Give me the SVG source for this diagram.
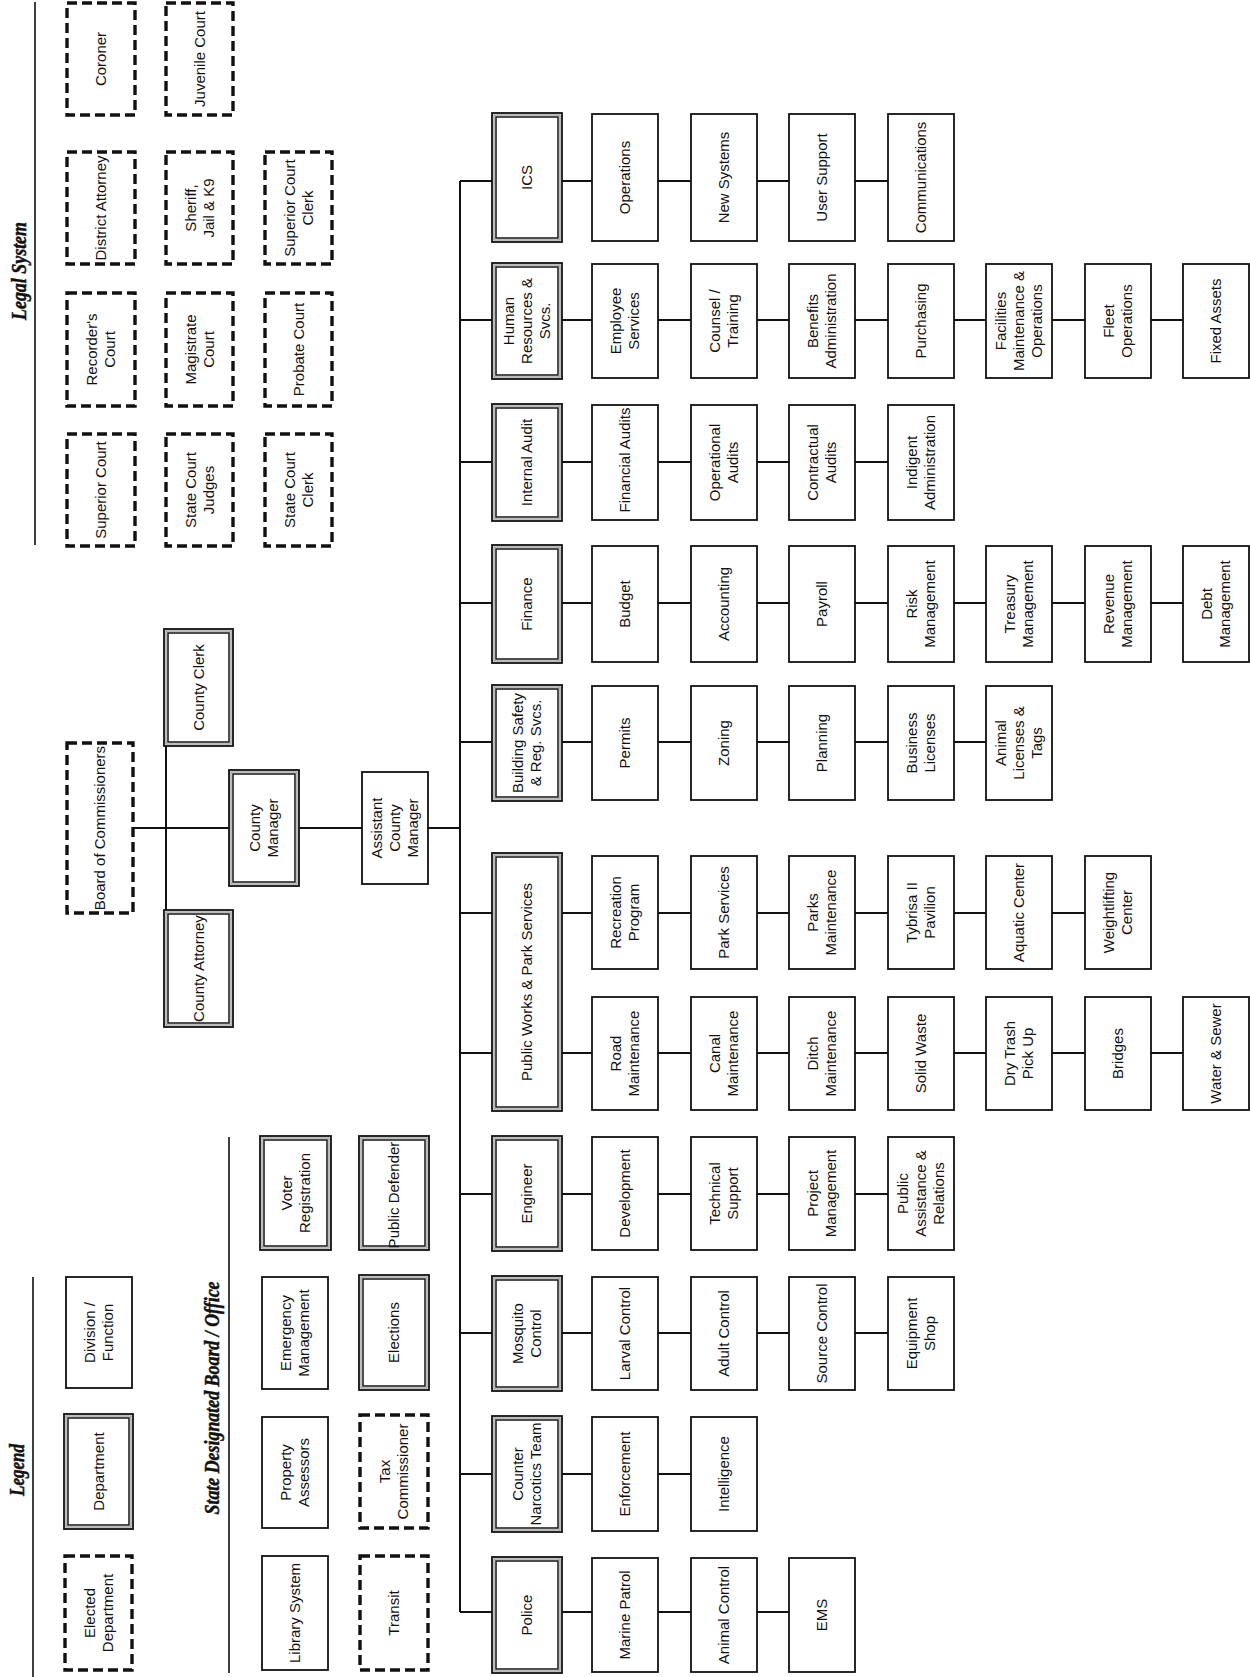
<svg xmlns="http://www.w3.org/2000/svg" width="1250" height="1677" viewBox="0 0 1250 1677">
<style>
.bg{fill:#fff}
.b{fill:#fff;stroke:#111;stroke-width:1.8}
.e{fill:#fff;stroke:#111;stroke-width:3.4;stroke-dasharray:10 5}
.o{fill:#fff;stroke:#111;stroke-width:1.8}
.m{fill:none;stroke:#999;stroke-width:1.3}
.i{fill:none;stroke:#222;stroke-width:1.6}
.t{font-family:"Liberation Sans",Arial,sans-serif;font-size:15px;fill:#111;text-anchor:middle}
.h{font-family:"Liberation Serif","Times New Roman",serif;font-weight:bold;font-style:italic;font-size:21px;fill:#111;text-anchor:middle;stroke:#111;stroke-width:0.5}
.c{stroke:#111;stroke-width:2;fill:none}
.r{stroke:#111;stroke-width:1.6;fill:none}
</style>
<rect class="bg" x="0" y="0" width="1250" height="1677"/>

<g id="titles">
<text class="h" transform="rotate(-90 19 271)" x="19" y="271" dy="7" textLength="98" lengthAdjust="spacingAndGlyphs">Legal System</text>
<text class="h" transform="rotate(-90 17 1470)" x="17" y="1470" dy="7" textLength="52" lengthAdjust="spacingAndGlyphs">Legend</text>
<text class="h" transform="rotate(-90 212 1398)" x="212" y="1398" dy="7" textLength="233" lengthAdjust="spacingAndGlyphs">State Designated Board / Office</text>
<path class="r" d="M35 2V545M33 1277V1677M229 1137V1673"/>
</g>

<g id="connectors">
<path class="c" d="M133 828H460M166 746V910M460 181V1612"/>
<path class="c" d="M460 181H921M460 320H1216M460 462H921M460 603H1216M460 742H1019M460 913H1118M460 1053H1216M460 1194H921M460 1333H921M460 1474H724M460 1612H822"/>
</g>

<!-- Legal System -->
<g id="ls-coroner"><rect class="e" x="67" y="3" width="68" height="112"/><text class="t" transform="rotate(-90 101 59)" x="101" y="59" dy="5">Coroner</text></g>
<g id="ls-district-attorney"><rect class="e" x="67" y="152" width="68" height="112"/><text class="t" transform="rotate(-90 101 208)" x="101" y="208" dy="5">District Attorney</text></g>
<g id="ls-recorders-court"><rect class="e" x="67" y="293" width="68" height="113"/><text class="t" transform="rotate(-90 101 349.5)" x="101" y="349.5"><tspan x="101" dy="-4">Recorder's</tspan><tspan x="101" dy="18">Court</tspan></text></g>
<g id="ls-superior-court"><rect class="e" x="67" y="434" width="68" height="112"/><text class="t" transform="rotate(-90 101 490)" x="101" y="490" dy="5">Superior Court</text></g>
<g id="ls-juvenile-court"><rect class="e" x="166" y="3" width="67" height="112"/><text class="t" transform="rotate(-90 199.5 59)" x="199.5" y="59" dy="5">Juvenile Court</text></g>
<g id="ls-sheriff"><rect class="e" x="166" y="152" width="67" height="112"/><text class="t" transform="rotate(-90 199.5 208)" x="199.5" y="208"><tspan x="199.5" dy="-4">Sheriff,</tspan><tspan x="199.5" dy="18">Jail &amp; K9</tspan></text></g>
<g id="ls-magistrate-court"><rect class="e" x="166" y="293" width="67" height="113"/><text class="t" transform="rotate(-90 199.5 349.5)" x="199.5" y="349.5"><tspan x="199.5" dy="-4">Magistrate</tspan><tspan x="199.5" dy="18">Court</tspan></text></g>
<g id="ls-state-court-judges"><rect class="e" x="166" y="434" width="67" height="112"/><text class="t" transform="rotate(-90 199.5 490)" x="199.5" y="490"><tspan x="199.5" dy="-4">State Court</tspan><tspan x="199.5" dy="18">Judges</tspan></text></g>
<g id="ls-superior-court-clerk"><rect class="e" x="265" y="152" width="67" height="112"/><text class="t" transform="rotate(-90 298.5 208)" x="298.5" y="208"><tspan x="298.5" dy="-4">Superior Court</tspan><tspan x="298.5" dy="18">Clerk</tspan></text></g>
<g id="ls-probate-court"><rect class="e" x="265" y="293" width="67" height="113"/><text class="t" transform="rotate(-90 298.5 349.5)" x="298.5" y="349.5" dy="5">Probate Court</text></g>
<g id="ls-state-court-clerk"><rect class="e" x="265" y="434" width="67" height="112"/><text class="t" transform="rotate(-90 298.5 490)" x="298.5" y="490"><tspan x="298.5" dy="-4">State Court</tspan><tspan x="298.5" dy="18">Clerk</tspan></text></g>

<!-- Legend -->
<g id="lg-elected"><rect class="e" x="65" y="1556" width="67" height="114"/><text class="t" transform="rotate(-90 98.5 1613)" x="98.5" y="1613"><tspan x="98.5" dy="-4">Elected</tspan><tspan x="98.5" dy="18">Department</tspan></text></g>
<g id="lg-department"><rect class="o" x="64" y="1414" width="69" height="115"/><rect class="m" x="66" y="1416" width="65" height="111"/><rect class="i" x="68" y="1418" width="61" height="107"/><text class="t" transform="rotate(-90 98.5 1471.5)" x="98.5" y="1471.5" dy="5">Department</text></g>
<g id="lg-division"><rect class="b" x="66" y="1277" width="66" height="111"/><text class="t" transform="rotate(-90 99 1332.5)" x="99" y="1332.5"><tspan x="99" dy="-4">Division /</tspan><tspan x="99" dy="18">Function</tspan></text></g>

<!-- State designated -->
<g id="sd-library"><rect class="b" x="262" y="1556" width="66" height="114"/><text class="t" transform="rotate(-90 295 1613)" x="295" y="1613" dy="5">Library System</text></g>
<g id="sd-property"><rect class="b" x="262" y="1417" width="66" height="111"/><text class="t" transform="rotate(-90 295 1472.5)" x="295" y="1472.5"><tspan x="295" dy="-4">Property</tspan><tspan x="295" dy="18">Assessors</tspan></text></g>
<g id="sd-emergency"><rect class="b" x="262" y="1277" width="66" height="112"/><text class="t" transform="rotate(-90 295 1333)" x="295" y="1333"><tspan x="295" dy="-4">Emergency</tspan><tspan x="295" dy="18">Management</tspan></text></g>
<g id="sd-voter"><rect class="o" x="260" y="1136" width="71" height="114"/><rect class="m" x="262" y="1138" width="67" height="110"/><rect class="i" x="264" y="1140" width="63" height="106"/><text class="t" transform="rotate(-90 295.5 1193)" x="295.5" y="1193"><tspan x="295.5" dy="-4">Voter</tspan><tspan x="295.5" dy="18">Registration</tspan></text></g>
<g id="sd-transit"><rect class="e" x="360" y="1556" width="68" height="114"/><text class="t" transform="rotate(-90 394 1613)" x="394" y="1613" dy="5">Transit</text></g>
<g id="sd-tax"><rect class="e" x="360" y="1415" width="68" height="113"/><text class="t" transform="rotate(-90 394 1471.5)" x="394" y="1471.5"><tspan x="394" dy="-4">Tax</tspan><tspan x="394" dy="18">Commissioner</tspan></text></g>
<g id="sd-elections"><rect class="o" x="359" y="1275" width="70" height="115"/><rect class="m" x="361" y="1277" width="66" height="111"/><rect class="i" x="363" y="1279" width="62" height="107"/><text class="t" transform="rotate(-90 394 1332.5)" x="394" y="1332.5" dy="5">Elections</text></g>
<g id="sd-public-defender"><rect class="o" x="359" y="1136" width="70" height="114"/><rect class="m" x="361" y="1138" width="66" height="110"/><rect class="i" x="363" y="1140" width="62" height="106"/><text class="t" transform="rotate(-90 394 1195)" x="394" y="1195" dy="5">Public Defender</text></g>

<!-- Top level -->
<g id="board"><rect class="e" x="67" y="743" width="66" height="170"/><text class="t" transform="rotate(-90 100 828)" x="100" y="828" dy="5">Board of Commissioners</text></g>
<g id="county-clerk"><rect class="o" x="164" y="629" width="69" height="117"/><rect class="m" x="166" y="631" width="65" height="113"/><rect class="i" x="168" y="633" width="61" height="109"/><text class="t" transform="rotate(-90 198.5 687.5)" x="198.5" y="687.5" dy="5">County Clerk</text></g>
<g id="county-attorney"><rect class="o" x="164" y="910" width="69" height="117"/><rect class="m" x="166" y="912" width="65" height="113"/><rect class="i" x="168" y="914" width="61" height="109"/><text class="t" transform="rotate(-90 198.5 968.5)" x="198.5" y="968.5" dy="5">County Attorney</text></g>
<g id="county-manager"><rect class="o" x="229" y="770" width="70" height="116"/><rect class="m" x="231" y="772" width="66" height="112"/><rect class="i" x="233" y="774" width="62" height="108"/><text class="t" transform="rotate(-90 264 828)" x="264" y="828"><tspan x="264" dy="-4">County</tspan><tspan x="264" dy="18">Manager</tspan></text></g>
<g id="assistant-county-manager"><rect class="b" x="362" y="772" width="66" height="112"/><text class="t" transform="rotate(-90 395 828)" x="395" y="828"><tspan x="395" dy="-13">Assistant</tspan><tspan x="395" dy="18">County</tspan><tspan x="395" dy="18">Manager</tspan></text></g>

<!-- ICS row -->
<g id="ics"><rect class="o" x="492" y="113" width="70" height="129"/><rect class="m" x="494" y="115" width="66" height="125"/><rect class="i" x="496" y="117" width="62" height="121"/><text class="t" transform="rotate(-90 527 177.5)" x="527" y="177.5" dy="5">ICS</text></g>
<g id="ics-operations"><rect class="b" x="592" y="114" width="66" height="127"/><text class="t" transform="rotate(-90 625 177.5)" x="625" y="177.5" dy="5">Operations</text></g>
<g id="ics-new-systems"><rect class="b" x="691" y="114" width="66" height="127"/><text class="t" transform="rotate(-90 724 177.5)" x="724" y="177.5" dy="5">New Systems</text></g>
<g id="ics-user-support"><rect class="b" x="789" y="114" width="66" height="127"/><text class="t" transform="rotate(-90 822 177.5)" x="822" y="177.5" dy="5">User Support</text></g>
<g id="ics-communications"><rect class="b" x="888" y="114" width="66" height="127"/><text class="t" transform="rotate(-90 921 177.5)" x="921" y="177.5" dy="5">Communications</text></g>

<!-- HR row -->
<g id="hr"><rect class="o" x="492" y="263" width="70" height="116"/><rect class="m" x="494" y="265" width="66" height="112"/><rect class="i" x="496" y="267" width="62" height="108"/><text class="t" transform="rotate(-90 527 321)" x="527" y="321"><tspan x="527" dy="-13">Human</tspan><tspan x="527" dy="18">Resources &amp;</tspan><tspan x="527" dy="18">Svcs.</tspan></text></g>
<g id="hr-employee-services"><rect class="b" x="592" y="264" width="66" height="114"/><text class="t" transform="rotate(-90 625 321)" x="625" y="321"><tspan x="625" dy="-4">Employee</tspan><tspan x="625" dy="18">Services</tspan></text></g>
<g id="hr-counsel"><rect class="b" x="691" y="264" width="66" height="114"/><text class="t" transform="rotate(-90 724 321)" x="724" y="321"><tspan x="724" dy="-4">Counsel /</tspan><tspan x="724" dy="18">Training</tspan></text></g>
<g id="hr-benefits"><rect class="b" x="789" y="264" width="66" height="114"/><text class="t" transform="rotate(-90 822 321)" x="822" y="321"><tspan x="822" dy="-4">Benefits</tspan><tspan x="822" dy="18">Administration</tspan></text></g>
<g id="hr-purchasing"><rect class="b" x="888" y="264" width="66" height="114"/><text class="t" transform="rotate(-90 921 321)" x="921" y="321" dy="5">Purchasing</text></g>
<g id="hr-facilities"><rect class="b" x="986" y="264" width="66" height="114"/><text class="t" transform="rotate(-90 1019 321)" x="1019" y="321"><tspan x="1019" dy="-13">Facilities</tspan><tspan x="1019" dy="18">Maintenance &amp;</tspan><tspan x="1019" dy="18">Operations</tspan></text></g>
<g id="hr-fleet"><rect class="b" x="1085" y="264" width="66" height="114"/><text class="t" transform="rotate(-90 1118 321)" x="1118" y="321"><tspan x="1118" dy="-4">Fleet</tspan><tspan x="1118" dy="18">Operations</tspan></text></g>
<g id="hr-fixed-assets"><rect class="b" x="1183" y="264" width="66" height="114"/><text class="t" transform="rotate(-90 1216 321)" x="1216" y="321" dy="5">Fixed Assets</text></g>

<!-- Internal Audit row -->
<g id="ia"><rect class="o" x="492" y="404" width="70" height="117"/><rect class="m" x="494" y="406" width="66" height="113"/><rect class="i" x="496" y="408" width="62" height="109"/><text class="t" transform="rotate(-90 527 462.5)" x="527" y="462.5" dy="5">Internal Audit</text></g>
<g id="ia-financial"><rect class="b" x="592" y="405" width="66" height="115"/><text class="t" transform="rotate(-90 625 460)" x="625" y="460" dy="5">Financial Audits</text></g>
<g id="ia-operational"><rect class="b" x="691" y="405" width="66" height="115"/><text class="t" transform="rotate(-90 724 462.5)" x="724" y="462.5"><tspan x="724" dy="-4">Operational</tspan><tspan x="724" dy="18">Audits</tspan></text></g>
<g id="ia-contractual"><rect class="b" x="789" y="405" width="66" height="115"/><text class="t" transform="rotate(-90 822 462.5)" x="822" y="462.5"><tspan x="822" dy="-4">Contractual</tspan><tspan x="822" dy="18">Audits</tspan></text></g>
<g id="ia-indigent"><rect class="b" x="888" y="405" width="66" height="115"/><text class="t" transform="rotate(-90 921 462.5)" x="921" y="462.5"><tspan x="921" dy="-4">Indigent</tspan><tspan x="921" dy="18">Administration</tspan></text></g>

<!-- Finance row -->
<g id="finance"><rect class="o" x="492" y="545" width="70" height="118"/><rect class="m" x="494" y="547" width="66" height="114"/><rect class="i" x="496" y="549" width="62" height="110"/><text class="t" transform="rotate(-90 527 604)" x="527" y="604" dy="5">Finance</text></g>
<g id="fin-budget"><rect class="b" x="592" y="546" width="66" height="116"/><text class="t" transform="rotate(-90 625 604)" x="625" y="604" dy="5">Budget</text></g>
<g id="fin-accounting"><rect class="b" x="691" y="546" width="66" height="116"/><text class="t" transform="rotate(-90 724 604)" x="724" y="604" dy="5">Accounting</text></g>
<g id="fin-payroll"><rect class="b" x="789" y="546" width="66" height="116"/><text class="t" transform="rotate(-90 822 604)" x="822" y="604" dy="5">Payroll</text></g>
<g id="fin-risk"><rect class="b" x="888" y="546" width="66" height="116"/><text class="t" transform="rotate(-90 921 604)" x="921" y="604"><tspan x="921" dy="-4">Risk</tspan><tspan x="921" dy="18">Management</tspan></text></g>
<g id="fin-treasury"><rect class="b" x="986" y="546" width="66" height="116"/><text class="t" transform="rotate(-90 1019 604)" x="1019" y="604"><tspan x="1019" dy="-4">Treasury</tspan><tspan x="1019" dy="18">Management</tspan></text></g>
<g id="fin-revenue"><rect class="b" x="1085" y="546" width="66" height="116"/><text class="t" transform="rotate(-90 1118 604)" x="1118" y="604"><tspan x="1118" dy="-4">Revenue</tspan><tspan x="1118" dy="18">Management</tspan></text></g>
<g id="fin-debt"><rect class="b" x="1183" y="546" width="66" height="116"/><text class="t" transform="rotate(-90 1216 604)" x="1216" y="604"><tspan x="1216" dy="-4">Debt</tspan><tspan x="1216" dy="18">Management</tspan></text></g>

<!-- Building Safety row -->
<g id="building-safety"><rect class="o" x="492" y="685" width="70" height="116"/><rect class="m" x="494" y="687" width="66" height="112"/><rect class="i" x="496" y="689" width="62" height="108"/><text class="t" transform="rotate(-90 527 743)" x="527" y="743"><tspan x="527" dy="-4">Building Safety</tspan><tspan x="527" dy="18">&amp; Reg. Svcs.</tspan></text></g>
<g id="bs-permits"><rect class="b" x="592" y="686" width="66" height="114"/><text class="t" transform="rotate(-90 625 743)" x="625" y="743" dy="5">Permits</text></g>
<g id="bs-zoning"><rect class="b" x="691" y="686" width="66" height="114"/><text class="t" transform="rotate(-90 724 743)" x="724" y="743" dy="5">Zoning</text></g>
<g id="bs-planning"><rect class="b" x="789" y="686" width="66" height="114"/><text class="t" transform="rotate(-90 822 743)" x="822" y="743" dy="5">Planning</text></g>
<g id="bs-business"><rect class="b" x="888" y="686" width="66" height="114"/><text class="t" transform="rotate(-90 921 743)" x="921" y="743"><tspan x="921" dy="-4">Business</tspan><tspan x="921" dy="18">Licenses</tspan></text></g>
<g id="bs-animal"><rect class="b" x="986" y="686" width="66" height="114"/><text class="t" transform="rotate(-90 1019 743)" x="1019" y="743"><tspan x="1019" dy="-13">Animal</tspan><tspan x="1019" dy="18">Licenses &amp;</tspan><tspan x="1019" dy="18">Tags</tspan></text></g>

<!-- Public Works row -->
<g id="public-works"><rect class="o" x="492" y="853" width="70" height="258"/><rect class="m" x="494" y="855" width="66" height="254"/><rect class="i" x="496" y="857" width="62" height="250"/><text class="t" transform="rotate(-90 527 982)" x="527" y="982" dy="5">Public Works &amp; Park Services</text></g>
<g id="pw-recreation"><rect class="b" x="592" y="856" width="66" height="113"/><text class="t" transform="rotate(-90 625 912.5)" x="625" y="912.5"><tspan x="625" dy="-4">Recreation</tspan><tspan x="625" dy="18">Program</tspan></text></g>
<g id="pw-park-services"><rect class="b" x="691" y="856" width="66" height="113"/><text class="t" transform="rotate(-90 724 912.5)" x="724" y="912.5" dy="5">Park Services</text></g>
<g id="pw-parks-maintenance"><rect class="b" x="789" y="856" width="66" height="113"/><text class="t" transform="rotate(-90 822 912.5)" x="822" y="912.5"><tspan x="822" dy="-4">Parks</tspan><tspan x="822" dy="18">Maintenance</tspan></text></g>
<g id="pw-tybrisa"><rect class="b" x="888" y="856" width="66" height="113"/><text class="t" transform="rotate(-90 921 912.5)" x="921" y="912.5"><tspan x="921" dy="-4">Tybrisa II</tspan><tspan x="921" dy="18">Pavilion</tspan></text></g>
<g id="pw-aquatic"><rect class="b" x="986" y="856" width="66" height="113"/><text class="t" transform="rotate(-90 1019 912.5)" x="1019" y="912.5" dy="5">Aquatic Center</text></g>
<g id="pw-weightlifting"><rect class="b" x="1085" y="856" width="66" height="113"/><text class="t" transform="rotate(-90 1118 912.5)" x="1118" y="912.5"><tspan x="1118" dy="-4">Weightlifting</tspan><tspan x="1118" dy="18">Center</tspan></text></g>
<g id="pw-road"><rect class="b" x="592" y="997" width="66" height="113"/><text class="t" transform="rotate(-90 625 1053.5)" x="625" y="1053.5"><tspan x="625" dy="-4">Road</tspan><tspan x="625" dy="18">Maintenance</tspan></text></g>
<g id="pw-canal"><rect class="b" x="691" y="997" width="66" height="113"/><text class="t" transform="rotate(-90 724 1053.5)" x="724" y="1053.5"><tspan x="724" dy="-4">Canal</tspan><tspan x="724" dy="18">Maintenance</tspan></text></g>
<g id="pw-ditch"><rect class="b" x="789" y="997" width="66" height="113"/><text class="t" transform="rotate(-90 822 1053.5)" x="822" y="1053.5"><tspan x="822" dy="-4">Ditch</tspan><tspan x="822" dy="18">Maintenance</tspan></text></g>
<g id="pw-solid-waste"><rect class="b" x="888" y="997" width="66" height="113"/><text class="t" transform="rotate(-90 921 1053.5)" x="921" y="1053.5" dy="5">Solid Waste</text></g>
<g id="pw-dry-trash"><rect class="b" x="986" y="997" width="66" height="113"/><text class="t" transform="rotate(-90 1019 1053.5)" x="1019" y="1053.5"><tspan x="1019" dy="-4">Dry Trash</tspan><tspan x="1019" dy="18">Pick Up</tspan></text></g>
<g id="pw-bridges"><rect class="b" x="1085" y="997" width="66" height="113"/><text class="t" transform="rotate(-90 1118 1053.5)" x="1118" y="1053.5" dy="5">Bridges</text></g>
<g id="pw-water-sewer"><rect class="b" x="1183" y="997" width="66" height="113"/><text class="t" transform="rotate(-90 1216 1053.5)" x="1216" y="1053.5" dy="5">Water &amp; Sewer</text></g>

<!-- Engineer row -->
<g id="engineer"><rect class="o" x="492" y="1136" width="70" height="115"/><rect class="m" x="494" y="1138" width="66" height="111"/><rect class="i" x="496" y="1140" width="62" height="107"/><text class="t" transform="rotate(-90 527 1193.5)" x="527" y="1193.5" dy="5">Engineer</text></g>
<g id="eng-development"><rect class="b" x="592" y="1137" width="66" height="113"/><text class="t" transform="rotate(-90 625 1193.5)" x="625" y="1193.5" dy="5">Development</text></g>
<g id="eng-technical"><rect class="b" x="691" y="1137" width="66" height="113"/><text class="t" transform="rotate(-90 724 1193.5)" x="724" y="1193.5"><tspan x="724" dy="-4">Technical</tspan><tspan x="724" dy="18">Support</tspan></text></g>
<g id="eng-project"><rect class="b" x="789" y="1137" width="66" height="113"/><text class="t" transform="rotate(-90 822 1193.5)" x="822" y="1193.5"><tspan x="822" dy="-4">Project</tspan><tspan x="822" dy="18">Management</tspan></text></g>
<g id="eng-public"><rect class="b" x="888" y="1137" width="66" height="113"/><text class="t" transform="rotate(-90 921 1193.5)" x="921" y="1193.5"><tspan x="921" dy="-13">Public</tspan><tspan x="921" dy="18">Assistance &amp;</tspan><tspan x="921" dy="18">Relations</tspan></text></g>

<!-- Mosquito row -->
<g id="mosquito"><rect class="o" x="492" y="1276" width="70" height="115"/><rect class="m" x="494" y="1278" width="66" height="111"/><rect class="i" x="496" y="1280" width="62" height="107"/><text class="t" transform="rotate(-90 527 1333.5)" x="527" y="1333.5"><tspan x="527" dy="-4">Mosquito</tspan><tspan x="527" dy="18">Control</tspan></text></g>
<g id="mos-larval"><rect class="b" x="592" y="1277" width="66" height="113"/><text class="t" transform="rotate(-90 625 1333.5)" x="625" y="1333.5" dy="5">Larval Control</text></g>
<g id="mos-adult"><rect class="b" x="691" y="1277" width="66" height="113"/><text class="t" transform="rotate(-90 724 1333.5)" x="724" y="1333.5" dy="5">Adult Control</text></g>
<g id="mos-source"><rect class="b" x="789" y="1277" width="66" height="113"/><text class="t" transform="rotate(-90 822 1333.5)" x="822" y="1333.5" dy="5">Source Control</text></g>
<g id="mos-equipment"><rect class="b" x="888" y="1277" width="66" height="113"/><text class="t" transform="rotate(-90 921 1333.5)" x="921" y="1333.5"><tspan x="921" dy="-4">Equipment</tspan><tspan x="921" dy="18">Shop</tspan></text></g>

<!-- Counter Narcotics row -->
<g id="counter-narcotics"><rect class="o" x="492" y="1416" width="70" height="116"/><rect class="m" x="494" y="1418" width="66" height="112"/><rect class="i" x="496" y="1420" width="62" height="108"/><text class="t" transform="rotate(-90 527 1474)" x="527" y="1474"><tspan x="527" dy="-4">Counter</tspan><tspan x="527" dy="18">Narcotics Team</tspan></text></g>
<g id="cn-enforcement"><rect class="b" x="592" y="1417" width="66" height="114"/><text class="t" transform="rotate(-90 625 1474)" x="625" y="1474" dy="5">Enforcement</text></g>
<g id="cn-intelligence"><rect class="b" x="691" y="1417" width="66" height="114"/><text class="t" transform="rotate(-90 724 1474)" x="724" y="1474" dy="5">Intelligence</text></g>

<!-- Police row -->
<g id="police"><rect class="o" x="492" y="1557" width="70" height="116"/><rect class="m" x="494" y="1559" width="66" height="112"/><rect class="i" x="496" y="1561" width="62" height="108"/><text class="t" transform="rotate(-90 527 1615)" x="527" y="1615" dy="5">Police</text></g>
<g id="pol-marine"><rect class="b" x="592" y="1558" width="66" height="114"/><text class="t" transform="rotate(-90 625 1615)" x="625" y="1615" dy="5">Marine Patrol</text></g>
<g id="pol-animal"><rect class="b" x="691" y="1558" width="66" height="114"/><text class="t" transform="rotate(-90 724 1615)" x="724" y="1615" dy="5">Animal Control</text></g>
<g id="pol-ems"><rect class="b" x="789" y="1558" width="66" height="114"/><text class="t" transform="rotate(-90 822 1615)" x="822" y="1615" dy="5">EMS</text></g>
</svg>
